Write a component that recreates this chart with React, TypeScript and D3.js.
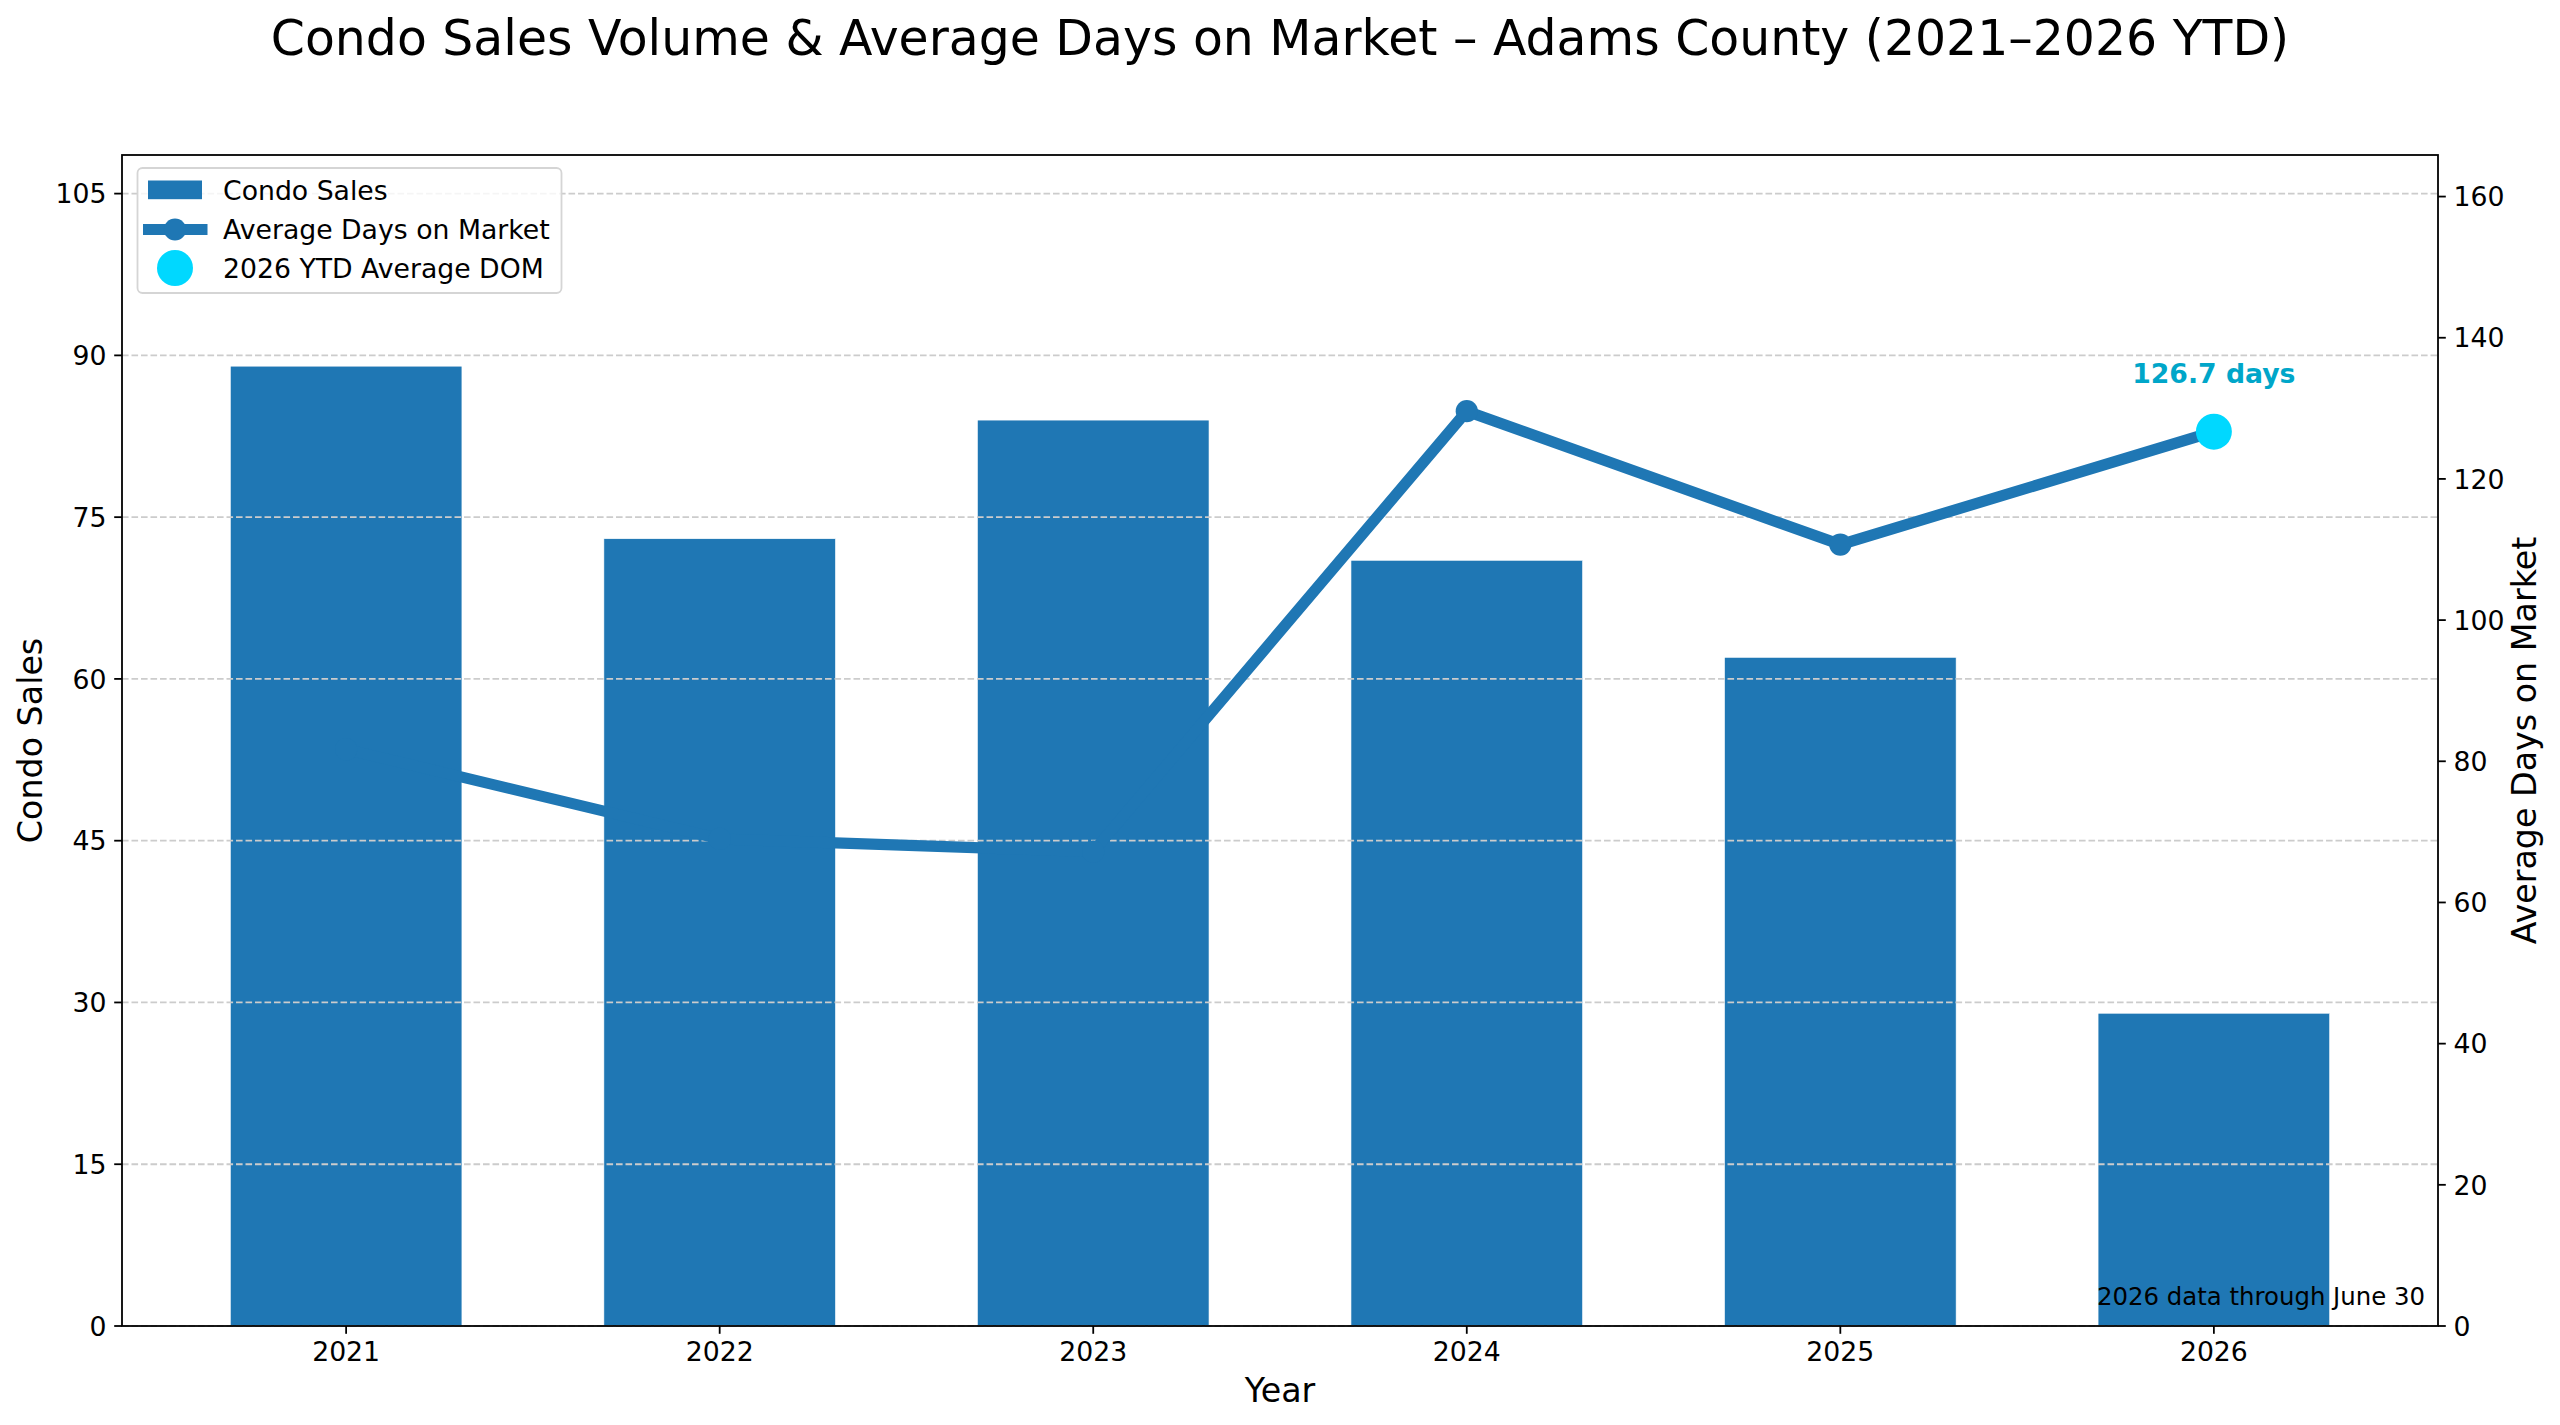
import * as d3 from "d3";
import { useEffect } from "react";

// values
const years = ["2021", "2022", "2023", "2024", "2025", "2026"];
const condoSales = [89, 73, 84, 71, 62, 29];
const avgDaysOnMarket = [81.7, 69.0, 67.2, 129.6, 110.7, 126.7];
const salesTicks = [0, 15, 30, 45, 60, 75, 90, 105];
const domTicks = [0, 20, 40, 60, 80, 100, 120, 140, 160];

const W = 2560;
const H = 1425;
const margin = { left: 122, right: 2438, top: 155, bottom: 1326 };
const BLUE = "#1f77b4";
const CYAN = "#00d8ff";
const CYAN_TEXT = "#00a6c9";
const FONT = "'DejaVu Sans', sans-serif";
const TICK = 26.7;

export default function App() {
  useEffect(() => {
    document.body.style.margin = "0";
  }, []);

  const x = d3.scaleLinear().domain([-0.6, 5.6]).range([margin.left, margin.right]);
  const ySales = d3
    .scaleLinear()
    .domain([0, d3.max(condoSales)! * 1.22])
    .range([margin.bottom, margin.top]);
  const yDom = d3
    .scaleLinear()
    .domain([0, d3.max(avgDaysOnMarket)! * 1.28])
    .range([margin.bottom, margin.top]);

  const barW = x(0.62) - x(0);
  const line = d3
    .line<number>()
    .x((_, i) => x(i))
    .y((d) => yDom(d));

  const last = avgDaysOnMarket.length - 1;
  const plotMidY = (margin.top + margin.bottom) / 2;

  return (
    <svg
      width={W}
      height={H}
      style={{ position: "absolute", left: 0, top: 0, background: "#fff" }}
      fontFamily={FONT}
    >
      <rect x={0} y={0} width={W} height={H} fill="#fff" />

      <text x={(margin.left + margin.right) / 2} y={55} textAnchor="middle" fontSize={48.9}>
        Condo Sales Volume &amp; Average Days on Market – Adams County (2021–2026 YTD)
      </text>

      {/* bars */}
      {condoSales.map((v, i) => (
        <rect
          key={years[i]}
          x={x(i) - barW / 2}
          y={ySales(v)}
          width={barW}
          height={ySales(0) - ySales(v)}
          fill={BLUE}
          stroke="#fff"
          strokeWidth={0.6}
        />
      ))}

      {/* grid */}
      {salesTicks.map((t) => (
        <line
          key={`g${t}`}
          x1={margin.left}
          x2={margin.right}
          y1={ySales(t)}
          y2={ySales(t)}
          stroke="#cccccc"
          strokeWidth={1.8}
          strokeDasharray="6.6,2.9"
        />
      ))}

      {/* days on market line */}
      <path d={line(avgDaysOnMarket)!} fill="none" stroke={BLUE} strokeWidth={11.1} strokeLinejoin="round" />
      {avgDaysOnMarket.map((v, i) => (
        <circle key={`m${i}`} cx={x(i)} cy={yDom(v)} r={11.1} fill={BLUE} />
      ))}
      <circle cx={x(last)} cy={yDom(avgDaysOnMarket[last])} r={18} fill={CYAN} />
      <text
        x={x(last)}
        y={383}
        textAnchor="middle"
        fontSize={26.7}
        fontWeight="bold"
        fill={CYAN_TEXT}
      >
        {avgDaysOnMarket[last].toFixed(1)} days
      </text>

      <text x={2425} y={1305} textAnchor="end" fontSize={24.4}>
        2026 data through June 30
      </text>

      {/* spines */}
      <rect
        x={margin.left}
        y={margin.top}
        width={margin.right - margin.left}
        height={margin.bottom - margin.top}
        fill="none"
        stroke="#000"
        strokeWidth={1.8}
      />

      {/* left axis */}
      {salesTicks.map((t) => (
        <g key={`l${t}`}>
          <line x1={margin.left - 7.8} x2={margin.left} y1={ySales(t)} y2={ySales(t)} stroke="#000" strokeWidth={1.8} />
          <text x={margin.left - 15.6} y={ySales(t) + 9.7} textAnchor="end" fontSize={TICK}>
            {t}
          </text>
        </g>
      ))}

      {/* right axis */}
      {domTicks.map((t) => (
        <g key={`r${t}`}>
          <line x1={margin.right} x2={margin.right + 7.8} y1={yDom(t)} y2={yDom(t)} stroke="#000" strokeWidth={1.8} />
          <text x={margin.right + 15.6} y={yDom(t) + 9.7} textAnchor="start" fontSize={TICK}>
            {t}
          </text>
        </g>
      ))}

      {/* bottom axis */}
      {years.map((yr, i) => (
        <g key={`b${yr}`}>
          <line x1={x(i)} x2={x(i)} y1={margin.bottom} y2={margin.bottom + 7.8} stroke="#000" strokeWidth={1.8} />
          <text x={x(i)} y={1361} textAnchor="middle" fontSize={TICK}>
            {yr}
          </text>
        </g>
      ))}

      <text x={(margin.left + margin.right) / 2} y={1402} textAnchor="middle" fontSize={33.3}>
        Year
      </text>
      <text transform={`translate(41.7, ${plotMidY}) rotate(-90)`} textAnchor="middle" fontSize={33.3}>
        Condo Sales
      </text>
      <text transform={`translate(2536, ${plotMidY}) rotate(-90)`} textAnchor="middle" fontSize={33.3}>
        Average Days on Market
      </text>

      {/* legend */}
      <g>
        <rect x={137.5} y={168} width={424} height={125} rx={5} fill="#fff" fillOpacity={0.8} stroke="#d5d5d5" strokeWidth={1.8} />
        <rect x={148} y={180.5} width={54} height={18.7} fill={BLUE} />
        <text x={223} y={200} fontSize={26.7}>Condo Sales</text>
        <line x1={143} x2={207.5} y1={229.5} y2={229.5} stroke={BLUE} strokeWidth={11.1} />
        <circle cx={175} cy={229.5} r={11.1} fill={BLUE} />
        <text x={223} y={239} fontSize={26.7}>Average Days on Market</text>
        <circle cx={175} cy={268} r={18} fill={CYAN} />
        <text x={223} y={278} fontSize={26.7}>2026 YTD Average DOM</text>
      </g>
    </svg>
  );
}
